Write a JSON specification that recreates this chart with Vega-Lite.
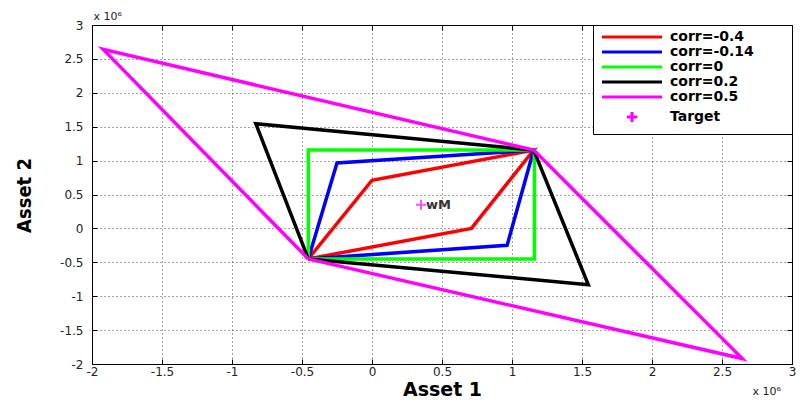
{
  "$schema": "https://vega.github.io/schema/vega-lite/v6.json",
  "width": 700,
  "height": 339,
  "autosize": {"type": "none"},
  "padding": {"left": 92, "top": 25, "right": 9, "bottom": 36},
  "background": "white",
  "config": {
    "view": {"stroke": "black", "strokeWidth": 1},
    "axis": {
      "labelFont": "DejaVu Sans",
      "labelFontSize": 12,
      "labelColor": "#222",
      "domainColor": "black",
      "tickColor": "black",
      "gridColor": "#444",
      "gridDash": [1, 3],
      "gridOpacity": 1,
      "gridWidth": 1
    }
  },
  "datasets": {
    "polys": [
      {"series": "corr=-0.4", "i": 0, "a1": -455000, "a2": -450000},
      {"series": "corr=-0.4", "i": 1, "a1": 0, "a2": 710000},
      {"series": "corr=-0.4", "i": 2, "a1": 1155000, "a2": 1155000},
      {"series": "corr=-0.4", "i": 3, "a1": 710000, "a2": 0},
      {"series": "corr=-0.4", "i": 4, "a1": -455000, "a2": -450000},
      {"series": "corr=-0.14", "i": 0, "a1": -455000, "a2": -450000},
      {"series": "corr=-0.14", "i": 1, "a1": -250000, "a2": 965000},
      {"series": "corr=-0.14", "i": 2, "a1": 1155000, "a2": 1155000},
      {"series": "corr=-0.14", "i": 3, "a1": 965000, "a2": -250000},
      {"series": "corr=-0.14", "i": 4, "a1": -455000, "a2": -450000},
      {"series": "corr=0", "i": 0, "a1": -455000, "a2": -450000},
      {"series": "corr=0", "i": 1, "a1": -455000, "a2": 1155000},
      {"series": "corr=0", "i": 2, "a1": 1160000, "a2": 1155000},
      {"series": "corr=0", "i": 3, "a1": 1160000, "a2": -450000},
      {"series": "corr=0", "i": 4, "a1": -455000, "a2": -450000},
      {"series": "corr=0.2", "i": 0, "a1": -455000, "a2": -450000},
      {"series": "corr=0.2", "i": 1, "a1": -830000, "a2": 1545000},
      {"series": "corr=0.2", "i": 2, "a1": 1155000, "a2": 1155000},
      {"series": "corr=0.2", "i": 3, "a1": 1545000, "a2": -830000},
      {"series": "corr=0.2", "i": 4, "a1": -455000, "a2": -450000},
      {"series": "corr=0.5", "i": 0, "a1": -455000, "a2": -450000},
      {"series": "corr=0.5", "i": 1, "a1": -1920000, "a2": 2640000},
      {"series": "corr=0.5", "i": 2, "a1": 1155000, "a2": 1155000},
      {"series": "corr=0.5", "i": 3, "a1": 2645000, "a2": -1920000},
      {"series": "corr=0.5", "i": 4, "a1": -455000, "a2": -450000}
    ],
    "target": [{"label": "wM", "a1": 350000, "a2": 350000}]
  },
  "resolve": {"axis": {"x": "independent", "y": "independent"}},
  "layer": [
    {
      "data": {"name": "polys"},
      "mark": {"type": "line", "strokeWidth": 3.5, "strokeJoin": "miter", "clip": false},
      "encoding": {
        "x": {
          "field": "a1", "type": "quantitative",
          "scale": {"domain": [-2000000, 3000000], "nice": false, "zero": false},
          "axis": {
            "values": [-2000000, -1500000, -1000000, -500000, 0, 500000, 1000000, 1500000, 2000000, 2500000, 3000000],
            "labelExpr": "toString(datum.value/1000000)",
            "tickSize": -5, "labelPadding": 7, "labelFlush": false,
            "grid": true,
            "title": "Asset 1",
            "titleFont": "DejaVu Sans", "titleFontSize": 19, "titleFontWeight": "bold", "titleColor": "black",
            "titleBaseline": "alphabetic", "titleY": 31
          }
        },
        "y": {
          "field": "a2", "type": "quantitative",
          "scale": {"domain": [-2000000, 3000000], "nice": false, "zero": false},
          "axis": {
            "values": [-2000000, -1500000, -1000000, -500000, 0, 500000, 1000000, 1500000, 2000000, 2500000, 3000000],
            "labelExpr": "toString(datum.value/1000000)",
            "tickSize": -5, "labelPadding": 14, "labelFlush": false,
            "grid": true,
            "title": "Asset 2",
            "titleFont": "Liberation Sans Narrow, DejaVu Sans Condensed, sans-serif", "titleFontSize": 20, "titleFontWeight": "bold", "titleColor": "black",
            "titleBaseline": "middle", "titleX": -68, "titleY": 170
          }
        },
        "color": {
          "field": "series", "type": "nominal",
          "scale": {
            "domain": ["corr=-0.4", "corr=-0.14", "corr=0", "corr=0.2", "corr=0.5", "Target"],
            "range": ["#FF0000", "#0000FF", "#00FF00", "#000000", "#FF00FF", "#FF00FF"]
          },
          "legend": {
            "title": null,
            "orient": "top-right",
            "offset": 0,
            "padding": 5,
            "strokeColor": "black",
            "fillColor": "white",
            "symbolType": "M-10,0L10,0",
            "symbolSize": 36,
            "symbolStrokeWidth": 3,
            "symbolOffset": 27,
            "labelOffset": 31,
            "labelFont": "DejaVu Sans",
            "labelFontSize": 14,
            "labelFontWeight": "bold",
            "labelColor": "black",
            "labelExpr": "datum.label + '\u2800\u2800\u2800'",
            "labelLimit": 300,
            "rowPadding": 1,
            "encode": {
              "symbols": {
                "update": {
                  "shape": [
                    {"test": "datum.value === 'Target'", "value": "M-1.7,0L1.7,0M0,-1.7L0,1.7"},
                    {"value": "M-10,0L10,0"}
                  ]
                }
              }
            }
          }
        },
        "order": {"field": "i", "type": "quantitative"}
      }
    },
    {
      "data": {"name": "target"},
      "mark": {"type": "point", "shape": "M-1,0L1,0M0,-1L0,1", "filled": false, "size": 100, "strokeWidth": 2, "color": "#FF00FF"},
      "encoding": {
        "x": {
          "field": "a1", "type": "quantitative",
          "axis": {
            "orient": "bottom", "labels": false, "ticks": false, "domain": false, "grid": false,
            "title": "x 10⁶", "titleFont": "DejaVu Sans", "titleFontSize": 11, "titleFontWeight": "normal", "titleColor": "#222",
            "titleAlign": "left", "titleBaseline": "alphabetic", "titleX": 660, "titleY": 30
          }
        },
        "y": {
          "field": "a2", "type": "quantitative",
          "axis": {
            "orient": "left", "labels": false, "ticks": false, "domain": false, "grid": false,
            "title": "x 10⁶", "titleFont": "DejaVu Sans", "titleFontSize": 11, "titleFontWeight": "normal", "titleColor": "#222",
            "titleAngle": 0, "titleAlign": "left", "titleBaseline": "alphabetic", "titleX": 1, "titleY": -6
          }
        }
      }
    },
    {
      "data": {"name": "target"},
      "mark": {"type": "text", "align": "left", "baseline": "middle", "dx": 5, "font": "DejaVu Sans", "fontSize": 13, "fontWeight": "bold", "color": "#333"},
      "encoding": {
        "x": {
          "field": "a1", "type": "quantitative",
          "axis": {"orient": "top", "labels": false, "tickSize": -5, "values": [-2000000, -1500000, -1000000, -500000, 0, 500000, 1000000, 1500000, 2000000, 2500000, 3000000], "domain": true, "grid": false, "title": null}
        },
        "y": {
          "field": "a2", "type": "quantitative",
          "axis": {"orient": "right", "labels": false, "tickSize": -5, "values": [-2000000, -1500000, -1000000, -500000, 0, 500000, 1000000, 1500000, 2000000, 2500000, 3000000], "domain": true, "grid": false, "title": null}
        },
        "text": {"field": "label"}
      }
    }
  ]
}
